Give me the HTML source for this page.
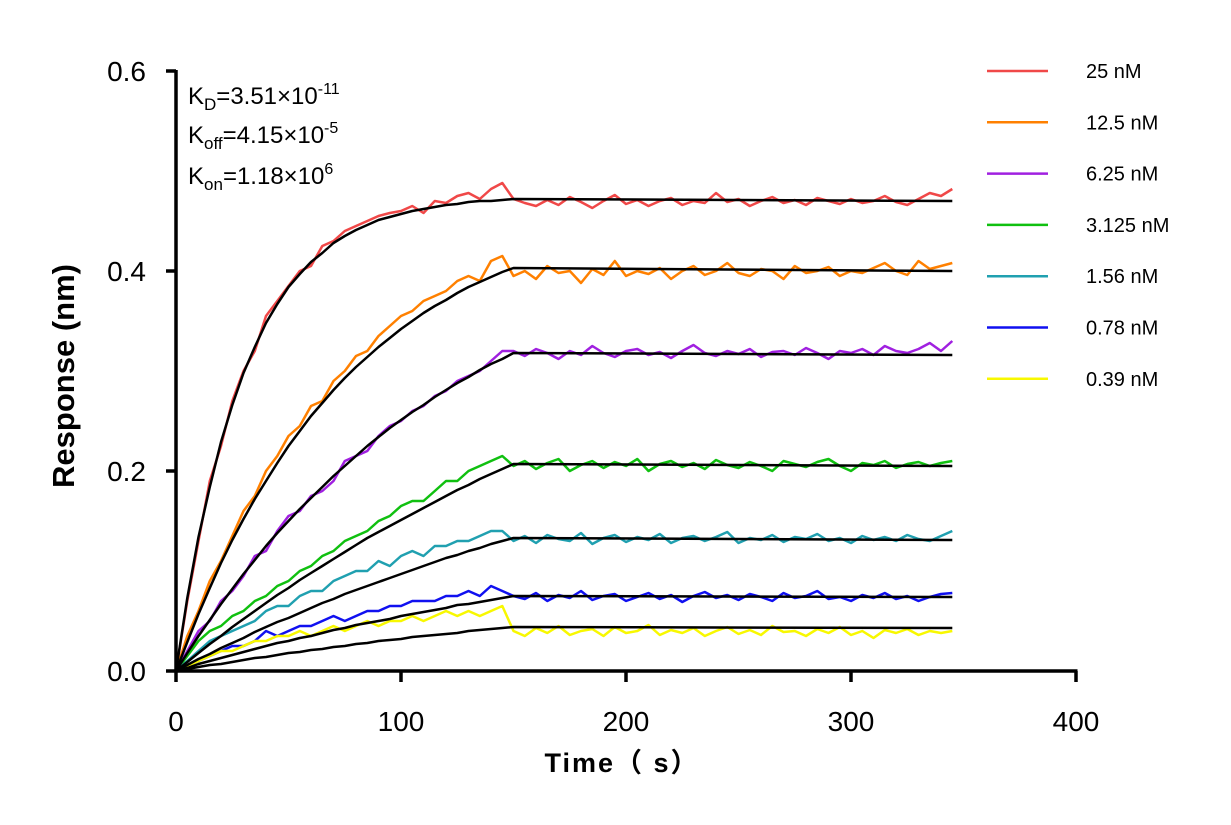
<!DOCTYPE html>
<html><head><meta charset="utf-8"><style>
body{margin:0;background:#fff}
svg{display:block;font-family:"Liberation Sans",Arial,sans-serif}
</style></head><body>
<svg id="chart" width="1231" height="825" viewBox="0 0 1231 825"></svg>
<script>
const seriesNames=["25 nM","12.5 nM","6.25 nM","3.125 nM","1.56 nM","0.78 nM","0.39 nM"];
const seriesColors=["#f04848","#ff8000","#a020e0","#10c010","#20a0b0","#1010f0","#f8f800"];
const xTicks=[0,100,200,300,400];
const yTicks=[0.0,0.2,0.4,0.6];
const yTickLabels=["0.0","0.2","0.4","0.6"];
const dataStep=5;
const fitEndTime=345;
const data25=[0,.07,.13,.19,.225,.27,.30,.32,.355,.37,.385,.40,.405,.425,.43,.44,.445,.45,.455,.458,.46,.465,.458,.47,.468,.475,.478,.472,.482,.488,.472,.468,.465,.471,.466,.474,.469,.463,.47,.476,.467,.471,.465,.47,.473,.466,.47,.468,.478,.469,.472,.465,.47,.474,.468,.471,.466,.473,.47,.467,.472,.468,.47,.475,.469,.466,.472,.478,.475,.482];
const data12=[0,.035,.06,.09,.11,.135,.16,.175,.2,.215,.235,.245,.265,.27,.29,.3,.315,.32,.335,.345,.355,.36,.37,.375,.38,.39,.395,.39,.41,.415,.395,.40,.392,.405,.398,.40,.388,.402,.396,.41,.395,.40,.397,.403,.392,.40,.405,.396,.40,.408,.398,.395,.402,.40,.392,.405,.398,.40,.404,.395,.40,.398,.403,.408,.40,.396,.41,.402,.405,.408];
const data6=[0,.02,.04,.05,.07,.08,.095,.115,.12,.14,.155,.16,.175,.18,.19,.21,.215,.22,.235,.245,.25,.26,.265,.275,.28,.29,.295,.30,.31,.32,.32,.315,.322,.318,.312,.32,.316,.325,.318,.314,.32,.322,.316,.319,.313,.32,.326,.318,.315,.32,.317,.322,.314,.319,.32,.316,.323,.318,.312,.32,.318,.322,.316,.325,.32,.318,.322,.328,.32,.33];
const data3=[0,.015,.03,.04,.045,.055,.06,.07,.075,.085,.09,.10,.105,.115,.12,.13,.135,.14,.15,.155,.165,.17,.17,.18,.19,.19,.2,.205,.21,.215,.205,.21,.202,.208,.212,.2,.206,.21,.203,.209,.205,.212,.2,.207,.21,.204,.208,.202,.211,.206,.203,.209,.205,.2,.21,.207,.204,.209,.212,.205,.2,.208,.206,.21,.203,.207,.209,.205,.208,.21];
const data156=[0,.01,.02,.03,.035,.04,.045,.05,.06,.065,.065,.075,.08,.08,.09,.095,.1,.1,.11,.105,.115,.12,.115,.125,.125,.13,.13,.135,.14,.14,.13,.135,.128,.136,.132,.13,.138,.127,.133,.136,.129,.134,.131,.137,.128,.133,.135,.13,.134,.139,.128,.133,.131,.136,.129,.134,.132,.137,.13,.133,.128,.135,.131,.134,.13,.136,.132,.13,.135,.14];
const data078=[0,.005,.01,.015,.02,.025,.025,.03,.04,.035,.04,.045,.045,.05,.055,.05,.055,.06,.06,.065,.065,.07,.07,.07,.075,.075,.08,.075,.085,.08,.075,.072,.078,.07,.076,.073,.08,.071,.075,.077,.07,.074,.078,.072,.076,.069,.075,.079,.073,.076,.071,.077,.074,.07,.078,.073,.075,.08,.072,.074,.07,.076,.073,.078,.072,.075,.07,.074,.077,.078];
const data039=[0,.005,.01,.015,.02,.02,.025,.03,.03,.035,.035,.04,.035,.04,.045,.04,.045,.05,.045,.05,.05,.055,.05,.055,.06,.055,.06,.055,.06,.065,.04,.035,.043,.038,.045,.036,.04,.042,.035,.044,.038,.04,.046,.036,.041,.038,.043,.035,.04,.044,.037,.041,.036,.045,.039,.04,.035,.042,.038,.044,.036,.04,.033,.041,.038,.042,.036,.04,.038,.04];
const fit25=[0,.073,.134,.184,.229,.266,.298,.324,.348,.367,.384,.397,.409,.418,.428,.435,.441,.446,.451,.454,.457,.460,.462,.464,.466,.467,.469,.470,.470,.471,.472];
const fit12=[0,.029,.057,.083,.108,.131,.152,.172,.190,.208,.225,.240,.255,.268,.281,.293,.304,.314,.324,.333,.342,.350,.358,.365,.371,.378,.384,.389,.394,.399,.403];
const fit6=[0,.018,.035,.051,.067,.082,.097,.111,.125,.138,.150,.162,.173,.184,.195,.205,.215,.225,.234,.243,.251,.259,.266,.274,.281,.288,.294,.301,.307,.312,.318];
const fit3=[0,.009,.018,.027,.035,.044,.052,.060,.068,.076,.083,.091,.098,.105,.112,.119,.126,.133,.139,.145,.151,.157,.163,.169,.175,.181,.186,.192,.197,.202,.207];
const fit156=[0,.006,.012,.017,.023,.028,.033,.039,.044,.049,.053,.058,.063,.068,.072,.077,.081,.085,.089,.093,.097,.101,.105,.109,.113,.116,.120,.123,.127,.130,.133];
const fit078=[0,.003,.007,.010,.013,.016,.019,.022,.025,.028,.030,.033,.035,.038,.041,.043,.046,.048,.050,.052,.055,.057,.059,.061,.063,.066,.067,.069,.071,.073,.075];
const fit039=[0,.002,.004,.006,.007,.009,.011,.013,.014,.016,.018,.019,.021,.022,.024,.025,.027,.028,.030,.031,.032,.034,.035,.036,.037,.038,.040,.041,.042,.043,.044];
const fitEnd=[.470,.400,.316,.205,.131,.074,.043];
const allData=[data25,data12,data6,data3,data156,data078,data039];
const allFits=[fit25,fit12,fit6,fit3,fit156,fit078,fit039];

const NS="http://www.w3.org/2000/svg";
const svg=document.getElementById('chart');
const X0=176,X1=1076,Y0=671,Y1=71;
function xs(t){return X0+(t-0)/(400-0)*(X1-X0);}
function ys(v){return Y0-(v-0)/(0.6-0)*(Y0-Y1);}
function mk(tag,attrs,parent){const e=document.createElementNS(NS,tag);for(const k in attrs)e.setAttribute(k,attrs[k]);(parent||svg).appendChild(e);return e;}

const plot=mk('g',{});


allData.forEach((arr,i)=>{
  const pts=arr.map((v,j)=>xs(j*dataStep).toFixed(1)+','+ys(v).toFixed(1)).join(' ');
  const p=mk('polyline',{points:pts,fill:'none',stroke:seriesColors[i],'stroke-width':2.5,'stroke-linejoin':'round'},plot);
  
  
});
allFits.forEach((arr,i)=>{
  const pts=arr.map((v,j)=>xs(j*dataStep).toFixed(1)+','+ys(v).toFixed(1));
  pts.push(xs(fitEndTime).toFixed(1)+','+ys(fitEnd[i]).toFixed(1));
  const p=mk('polyline',{points:pts.join(' '),fill:'none',stroke:'#000','stroke-width':2.5,'stroke-linejoin':'round'},plot);
  
  
});

const ax=mk('g',{});


mk('line',{x1:X0,y1:Y1-1,x2:X0,y2:Y0+1.5,stroke:'#000','stroke-width':3.5},ax);
mk('line',{x1:X0-1.5,y1:Y0,x2:X1+1.5,y2:Y0,stroke:'#000','stroke-width':3.5},ax);
yTicks.forEach((v,i)=>{
  mk('line',{x1:X0-10,y1:ys(v),x2:X0,y2:ys(v),stroke:'#000','stroke-width':3.5},ax);
  const t=mk('text',{x:X0-30,y:ys(v)+10,'text-anchor':'end','font-size':28,fill:'#000'},ax);
  t.textContent=yTickLabels[i];
  
  
});
xTicks.forEach(v=>{
  mk('line',{x1:xs(v),y1:Y0,x2:xs(v),y2:Y0+11,stroke:'#000','stroke-width':3.5},ax);
  const t=mk('text',{x:xs(v),y:731,'text-anchor':'middle','font-size':28,fill:'#000'},ax);
  t.textContent=String(v);
  
  
});

const lg=mk('g',{});


seriesNames.forEach((n,i)=>{
  const y=71+i*51.3;
  const g=mk('g',{},lg);
  
  
  mk('line',{x1:987,y1:y,x2:1048,y2:y,stroke:seriesColors[i],'stroke-width':2.5},g);
  const t=mk('text',{x:1086,y:y+7,'font-size':20,fill:'#000'},g);
  t.textContent=n;
});
</script>
<div style="position:absolute;left:0;top:0;width:1231px;height:825px;pointer-events:none">
<svg width="1231" height="825" style="position:absolute;left:0;top:0">
<text x="188" y="104" font-size="24" font-family="Liberation Sans, sans-serif">K<tspan font-size="17" dy="6">D</tspan><tspan dy="-6">=3.51×10</tspan><tspan font-size="16" dy="-10">-11</tspan></text>
<text x="188" y="143" font-size="24" font-family="Liberation Sans, sans-serif">K<tspan font-size="17" dy="6">off</tspan><tspan dy="-6">=4.15×10</tspan><tspan font-size="16" dy="-10">-5</tspan></text>
<text x="188" y="184" font-size="24" font-family="Liberation Sans, sans-serif">K<tspan font-size="17" dy="6">on</tspan><tspan dy="-6">=1.18×10</tspan><tspan font-size="16" dy="-10">6</tspan></text>
<text x="622" y="772" text-anchor="middle" font-size="27" font-weight="bold" letter-spacing="2" font-family="Liberation Sans, Noto Sans CJK SC, sans-serif">Time（ s）</text>
<text transform="translate(74,376) rotate(-90)" text-anchor="middle" font-size="31" font-weight="bold" font-family="Liberation Sans, sans-serif">Response (nm)</text>
</svg></div>
</body></html>
